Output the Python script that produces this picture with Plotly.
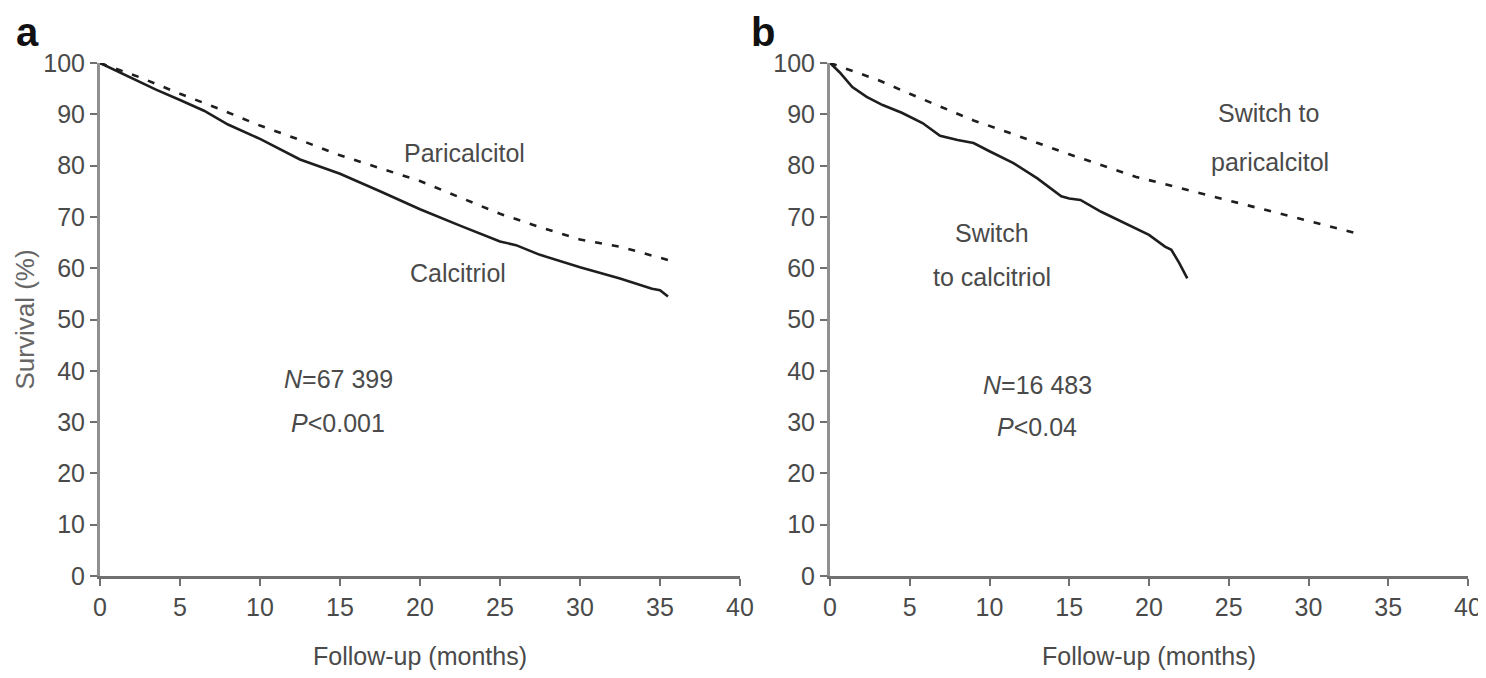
import plotly.graph_objects as go

# ---------------- data ----------------
# Panel a
a_calcitriol_t = [0, 1, 2, 3.5, 5, 6.5, 8, 10, 12.5, 15, 17.5, 20, 22.5, 25, 26, 27.5, 30, 32.5, 34.5, 35, 35.5]
a_calcitriol_s = [100, 98.5, 97, 94.8, 92.8, 90.7, 88, 85.2, 81.2, 78.4, 75.0, 71.5, 68.3, 65.2, 64.5, 62.6, 60.2, 58.0, 56.0, 55.7, 54.5]
a_paricalcitol_t = [0, 2.5, 5, 7.5, 10, 12.5, 15, 17.5, 20, 22.5, 25, 27.5, 30, 32.5, 35.5]
a_paricalcitol_s = [100, 97.2, 94.0, 91.0, 87.8, 85.0, 82.0, 79.5, 77.0, 73.8, 70.6, 68.0, 65.6, 64.2, 61.6]

# Panel b
b_calcitriol_t = [0, 0.6, 1.4, 2.3, 3.3, 4.5, 5.8, 6.9, 8.0, 9.0, 10.0, 11.5, 13.0, 14.5, 15.0, 15.7, 17.0, 19.0, 20.0, 21.0, 21.4, 21.9, 22.4]
b_calcitriol_s = [100, 98.2, 95.3, 93.4, 91.8, 90.3, 88.3, 85.8, 85.0, 84.4, 82.8, 80.5, 77.5, 74.0, 73.6, 73.3, 71.0, 68.0, 66.5, 64.2, 63.6, 61.0, 58.0]
b_paricalcitol_t = [0, 3, 5, 9, 10.7, 15, 19.2, 23.2, 25, 30, 33]
b_paricalcitol_s = [100, 96.7, 94.0, 88.8, 87.0, 82.2, 77.8, 74.7, 73.2, 69.2, 66.8]

x_ticks = [0, 5, 10, 15, 20, 25, 30, 35, 40]
y_ticks = [0, 10, 20, 30, 40, 50, 60, 70, 80, 90, 100]

# ---------------- styles ----------------
FONT = "Liberation Sans Narrow, Arial Narrow, Liberation Sans, Arial, sans-serif"
TXT = "#4a4a4a"
LINE = "#1e1e1e"
FS = 25
# page body has an 8px margin; figure sized so it stays inside the 1486x678 window
W, H = 1478, 662
OFF = 8

def px(v):
    return v - OFF

fig = go.Figure()

solid = dict(color=LINE, width=2.6)
dashed = dict(color=LINE, width=2.6, dash="7px,10px")

fig.add_trace(go.Scatter(x=a_calcitriol_t, y=a_calcitriol_s, mode="lines", line=solid,
                         xaxis="x", yaxis="y", showlegend=False, name="Calcitriol"))
fig.add_trace(go.Scatter(x=a_paricalcitol_t, y=a_paricalcitol_s, mode="lines", line=dashed,
                         xaxis="x", yaxis="y", showlegend=False, name="Paricalcitol"))
fig.add_trace(go.Scatter(x=b_calcitriol_t, y=b_calcitriol_s, mode="lines", line=solid,
                         xaxis="x2", yaxis="y2", showlegend=False, name="Switch to calcitriol"))
fig.add_trace(go.Scatter(x=b_paricalcitol_t, y=b_paricalcitol_s, mode="lines", line=dashed,
                         xaxis="x2", yaxis="y2", showlegend=False, name="Switch to paricalcitol"))

def xax(domain, anchor):
    return dict(domain=domain, anchor=anchor, range=[0, 40], tickvals=x_ticks,
                showgrid=False, zeroline=False, showline=True, linecolor="#707070", linewidth=3,
                ticks="outside", ticklen=7, tickwidth=2, tickcolor="#707070", automargin=False,
                ticklabeloverflow="allow",
                tickfont=dict(family=FONT, size=FS, color=TXT),
                title=dict(text="Follow-up (months)", font=dict(family=FONT, size=FS, color=TXT), standoff=32))

def yax(domain, anchor, title=None):
    d = dict(domain=domain, anchor=anchor, range=[0, 100], tickvals=y_ticks,
             showgrid=False, zeroline=False, showline=True, linecolor="#909090", linewidth=3,
             ticks="outside", ticklen=7, tickwidth=2, tickcolor="#707070", automargin=False,
             ticklabeloverflow="allow",
             tickfont=dict(family=FONT, size=FS, color=TXT))
    if title:
        d["title"] = dict(text=title, font=dict(family=FONT, size=FS + 1, color="#666666"), standoff=2)
    return d

ydom = [(H - px(576)) / H, (H - px(63)) / H]
fig.update_layout(
    width=W, height=H,
    margin=dict(l=0, r=0, t=0, b=0, autoexpand=False),
    paper_bgcolor="white", plot_bgcolor="white",
    xaxis=xax([px(100) / W, px(740) / W], "y"),
    yaxis=yax(ydom, "x", "Survival (%)"),
    xaxis2=xax([px(830) / W, px(1468) / W], "y2"),
    yaxis2=yax(ydom, "x2"),
)

def ann(text, x, y, xref, yref, size=FS, color=TXT, **kw):
    fig.add_annotation(text=text, x=x, y=y, xref=xref, yref=yref, showarrow=False,
                       font=dict(family=FONT, size=size, color=color), **kw)

# panel a texts
ann("Paricalcitol", 22.8, 82.5, "x", "y")
ann("Calcitriol", 22.4, 59.0, "x", "y")
ann("<i>N</i>=67 399", 14.9, 38.4, "x", "y")
ann("<i>P</i><0.001", 14.9, 29.8, "x", "y")
# panel b texts
ann("Switch to", 27.5, 90.3, "x2", "y2")
ann("paricalcitol", 27.6, 80.7, "x2", "y2")
ann("Switch", 10.15, 66.9, "x2", "y2")
ann("to calcitriol", 10.15, 58.3, "x2", "y2")
ann("<i>N</i>=16 483", 13.0, 37.2, "x2", "y2")
ann("<i>P</i><0.04", 13.0, 29.0, "x2", "y2")

# panel letters
for letter, cx in (("a", 27), ("b", 763)):
    fig.add_annotation(text="<b>%s</b>" % letter, x=px(cx) / W, y=1.0,
                       xref="paper", yref="paper", showarrow=False,
                       xanchor="center", yanchor="top",
                       font=dict(family="Liberation Sans, Arial, sans-serif", size=40, color="#111111"))

fig.write_html("out.html")
